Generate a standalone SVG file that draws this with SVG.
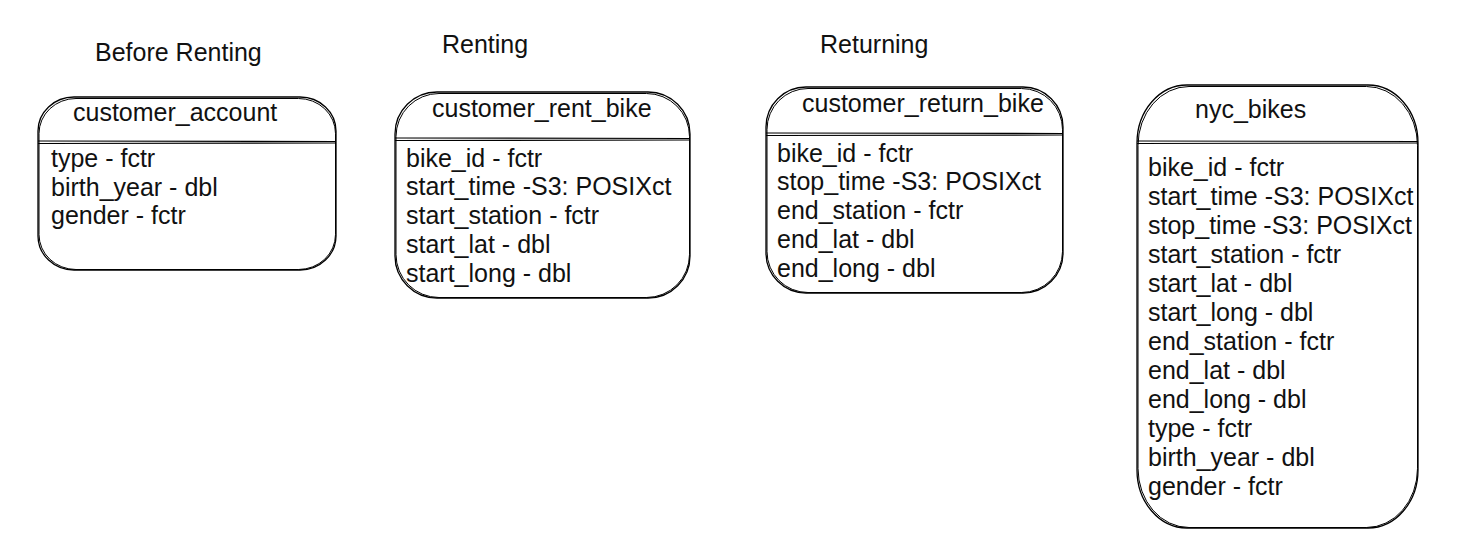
<svg xmlns="http://www.w3.org/2000/svg" width="1465" height="557" viewBox="0 0 1465 557">
<style>
text{font-family:"Liberation Sans",Arial,sans-serif;font-size:25px;fill:#111}
.b{fill:#fff;stroke:#000;stroke-width:1.3}
.b2{fill:none;stroke:#000;stroke-width:1}
.d{stroke:#000;stroke-width:1.2}
</style>
<rect width="1465" height="557" fill="#fff"/>
<g id="labels">
<text x="95" y="61">Before Renting</text>
<text x="442" y="53">Renting</text>
<text x="820" y="53">Returning</text>
</g>
<g id="customer_account">
<rect class="b" x="38" y="97" width="298" height="173" rx="36" ry="34"/>
<rect class="b2" x="39" y="98.5" width="296.5" height="171" rx="37" ry="35"/>
<line class="d" x1="38" y1="141" x2="336" y2="141.5"/>
<line class="d" x1="38" y1="143.5" x2="336" y2="143"/>
<text x="73" y="121">customer_account</text>
<text x="51" y="167">type - fctr</text>
<text x="51" y="195.5">birth_year - dbl</text>
<text x="51" y="224">gender - fctr</text>
</g>
<g id="customer_rent_bike">
<rect class="b" x="395" y="92" width="295" height="206" rx="42" ry="42"/>
<rect class="b2" x="396" y="93.5" width="293.5" height="204" rx="43" ry="43"/>
<line class="d" x1="395" y1="138" x2="690" y2="138.5"/>
<line class="d" x1="395" y1="140.5" x2="690" y2="140"/>
<text x="432" y="117">customer_rent_bike</text>
<text x="406" y="166.5">bike_id - fctr</text>
<text x="406" y="195.3">start_time -S3: POSIXct</text>
<text x="406" y="224">start_station - fctr</text>
<text x="406" y="253">start_lat - dbl</text>
<text x="406" y="281.6">start_long - dbl</text>
</g>
<g id="customer_return_bike">
<rect class="b" x="766" y="87" width="297" height="206" rx="40" ry="40"/>
<rect class="b2" x="767" y="88.5" width="295.5" height="204" rx="41" ry="41"/>
<line class="d" x1="766" y1="133" x2="1063" y2="133.5"/>
<line class="d" x1="766" y1="135.5" x2="1063" y2="135"/>
<text x="802" y="112">customer_return_bike</text>
<text x="777" y="161.5">bike_id - fctr</text>
<text x="777" y="190.3">stop_time -S3: POSIXct</text>
<text x="777" y="219">end_station - fctr</text>
<text x="777" y="248">end_lat - dbl</text>
<text x="777" y="276.6">end_long - dbl</text>
</g>
<g id="nyc_bikes">
<rect class="b" x="1137" y="85" width="281" height="443" rx="50" ry="58"/>
<rect class="b2" x="1138" y="86.5" width="279.5" height="441" rx="51" ry="59"/>
<line class="d" x1="1137" y1="141" x2="1418" y2="141.5"/>
<line class="d" x1="1137" y1="143.5" x2="1418" y2="143"/>
<text x="1195" y="118">nyc_bikes</text>
<text x="1148" y="176">bike_id - fctr</text>
<text x="1148" y="205">start_time -S3: POSIXct</text>
<text x="1148" y="234">stop_time -S3: POSIXct</text>
<text x="1148" y="263">start_station - fctr</text>
<text x="1148" y="292">start_lat - dbl</text>
<text x="1148" y="321">start_long - dbl</text>
<text x="1148" y="350">end_station - fctr</text>
<text x="1148" y="379">end_lat - dbl</text>
<text x="1148" y="408">end_long - dbl</text>
<text x="1148" y="437">type - fctr</text>
<text x="1148" y="466">birth_year - dbl</text>
<text x="1148" y="495">gender - fctr</text>
</g>
<g id="connectors"></g>
</svg>
